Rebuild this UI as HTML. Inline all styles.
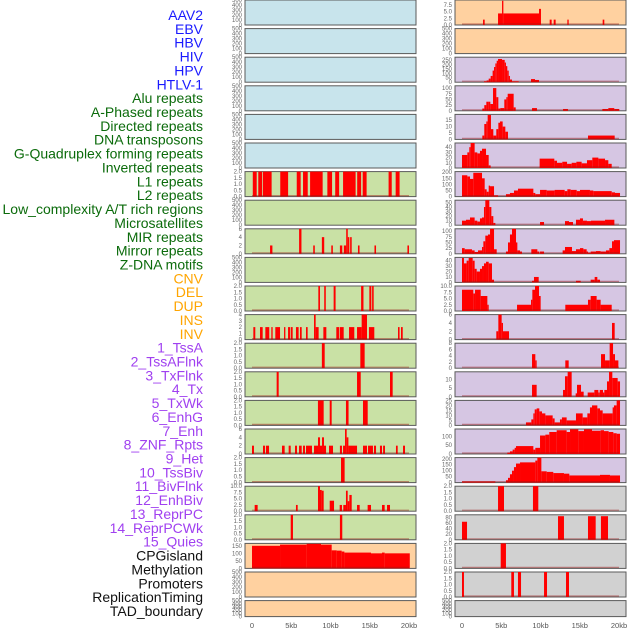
<!DOCTYPE html>
<html><head><meta charset="utf-8">
<style>
body{margin:0;background:#fff;width:630px;height:630px;overflow:hidden;font-family:"Liberation Sans",sans-serif}
svg{display:block}
</style></head>
<body>
<svg id="chart" width="630" height="630" xmlns="http://www.w3.org/2000/svg"></svg>
<script>
// ---- track labels ----
const trackLabels = ["AAV2","EBV","HBV","HIV","HPV","HTLV-1","Alu repeats","A-Phased repeats","Directed repeats","DNA transposons","G-Quadruplex forming repeats","Inverted repeats","L1 repeats","L2 repeats","Low_complexity A/T rich regions","Microsatellites","MIR repeats","Mirror repeats","Z-DNA motifs","CNV","DEL","DUP","INS","INV","1_TssA","2_TssAFlnk","3_TxFlnk","4_Tx","5_TxWk","6_EnhG","7_Enh","8_ZNF_Rpts","9_Het","10_TssBiv","11_BivFlnk","12_EnhBiv","13_ReprPC","14_ReprPCWk","15_Quies","CPGisland","Methylation","Promoters","ReplicationTiming","TAD_boundary"];
const labelGroups = [6,13,5,15,5];
const groupColors = ["#1a1aff","#0b6b0b","#ffa500","#a040f0","#111111"];
const xTickLabels = ["0","5kb","10kb","15kb","20kb"];
const xTickValues = [0,5,10,15,20];
const blankTicks = ["0","100","200","300","400","500"];
// ---- series: [startKb, endKb, value] ----
const L6 = [[0.1,0.6,2],[0.8,1.3,2],[1.4,2.5,2],[3.6,4.6,2],[5.7,6.2,2],[6.5,7.1,2],[7.4,9.0,2],[9.6,10.2,2],[10.6,11.1,2],[11.6,13.2,2],[13.4,13.9,2],[14.1,14.6,2],[17.4,17.8,2],[18.3,18.8,2]];
const L8 = [[2.3,2.6,2],[6.0,6.3,6],[7.8,8.0,2],[8.9,9.2,4],[10.1,10.3,2],[11.2,11.5,2],[11.7,12.0,2],[12.0,12.2,6],[12.2,12.4,4],[12.5,12.7,4],[13.5,13.7,2],[15.6,15.8,2],[19.8,20.0,2]];
const L10 = [[8.45,8.66,2],[9.2,9.4,2],[10.4,10.65,2],[13.9,14.2,2],[14.95,15.2,2],[15.3,15.5,2]];
const L11 = [[0.17,0.42,2],[1.02,1.36,2],[1.7,2.2,2],[2.46,2.63,2],[2.97,3.57,2],[4.08,4.25,2],[4.59,4.84,2],[4.93,5.18,2],[5.6,5.94,2],[6.11,6.33,2],[6.88,7.09,2],[7.9,8.11,4],[8.11,8.49,2],[9.09,9.47,2],[10.74,11.08,2],[11.17,11.68,2],[12.36,13.03,2],[13.38,13.97,2],[13.97,14.65,4],[14.9,15.58,2],[18.6,18.8,2],[18.98,19.2,2]];
const L12 = [[8.9,9.26,2],[13.8,14.35,2]];
const L13 = [[3.14,3.4,2],[13.38,13.85,2],[17.58,17.92,2]];
const L14 = [[8.4,9.13,2],[9.9,10.15,2],[11.97,12.3,2],[14.14,14.74,2]];
const L15 = [[0,0.25,2],[1.4,1.66,2],[1.78,2.17,2],[3.82,4.16,2],[4.67,4.93,2],[5.48,5.73,2],[5.99,6.33,2],[6.5,6.75,2],[6.88,7.64,2],[7.9,8.41,2],[8.41,8.66,4],[8.66,8.92,2],[8.92,9.17,4],[9.17,9.43,2],[9.81,10.32,2],[11.2,11.46,2],[11.6,11.85,2],[11.85,12.06,6],[12.06,12.28,4],[12.28,13.38,2],[14.14,14.65,2],[14.78,15.41,2],[15.54,15.8,2],[16.3,16.56,2],[16.7,16.94,2],[18.34,18.56,2],[19.24,19.49,2]];
const L16 = [[11.34,11.8,2]];
const L17 = [[0.34,0.72,2.5],[5.6,5.82,2.5],[8.41,8.66,10],[8.66,8.88,8.5],[8.88,9.13,8.2],[9.9,10.45,4.2],[11.17,11.46,2.5],[11.63,11.97,2.5],[11.97,12.19,8.2],[12.19,12.4,4],[12.4,12.7,6.5],[13.38,13.72,2.5],[14.73,15.16,2.5],[16.56,16.9,2.5],[17.2,17.58,2.5]];
const L18 = [[4.93,5.22,2],[11.2,11.5,2]];
const L19 = [[0,3.57,150],[3.57,6.96,158],[6.96,8.79,163],[8.79,10.15,158],[10.15,10.79,120],[10.79,11.42,118],[11.42,11.77,112],[11.77,15.16,105],[15.16,16.56,100],[16.56,16.9,105],[16.9,20.1,100]];
const R0 = [[2.68,2.89,2],[4.59,5.1,4.3],[5.1,5.27,9],[5.27,9.81,4.3],[9.81,10.06,6],[11.17,11.42,2],[11.68,11.93,2],[13.42,13.59,2],[17.92,18.13,2]];
const R2 = [[2.8,3.14,10],[3.14,3.4,20],[3.4,3.65,40],[3.65,3.9,70],[3.9,4.08,130],[4.08,4.25,170],[4.25,4.42,210],[4.42,4.59,240],[4.59,5.1,260],[5.1,5.44,250],[5.44,5.6,220],[5.6,5.77,180],[5.77,5.95,130],[5.95,6.11,70],[6.11,6.37,30],[6.37,7.22,10],[8.79,9.3,35],[9.3,9.81,25]];
const R3 = [[2.59,2.84,10],[2.84,3.1,25],[3.1,3.35,40],[3.35,3.61,40],[3.61,3.95,30],[3.95,4.37,100],[4.37,4.63,60],[4.63,4.88,10],[4.88,5.39,12],[5.39,5.65,50],[5.65,5.82,60],[5.82,6.58,75],[6.58,6.84,15],[8.92,9.55,12],[12.87,13.5,8],[17.88,18.64,8],[18.64,19.4,12],[19.4,20.04,8]];
const R4 = [[2.59,2.84,3],[2.84,3.1,12],[3.1,3.27,14],[3.27,3.69,19],[3.69,3.99,8],[3.99,4.37,3],[4.37,4.63,8],[4.63,4.84,13],[4.84,5.18,14],[5.18,5.52,10],[5.52,5.86,6],[16.05,19.45,3]];
const R5 = [[0,0.68,25],[0.68,0.93,30],[0.93,1.1,40],[1.1,1.61,48],[1.61,1.95,30],[1.95,2.29,28],[2.29,2.55,33],[2.55,3.06,37],[3.06,3.4,25],[3.4,3.65,5],[9.89,11.76,18],[11.76,12.1,14],[12.1,12.78,10],[12.78,13.38,12],[13.38,13.97,8],[13.97,14.57,10],[14.57,15.24,12],[15.24,15.92,9],[15.92,16.6,15],[16.6,17.37,20],[17.37,18.22,18],[18.22,18.64,15],[18.64,19.07,8]];
const R6 = [[0,0.68,175],[0.68,1.02,165],[1.02,1.44,145],[1.44,2.55,195],[2.55,2.89,150],[2.89,3.14,60],[3.14,3.4,40],[3.4,3.57,90],[3.57,4.08,85],[4.08,4.59,10],[5.6,6.11,20],[6.11,6.62,30],[6.62,7.13,50],[7.13,9.09,65],[9.09,9.34,30],[9.34,9.94,20],[9.94,10.79,55],[10.79,11.8,50],[11.8,13.08,55],[13.08,13.42,45],[13.42,13.84,60],[13.84,14.61,55],[14.61,15.03,45],[15.03,16.3,55],[16.3,16.73,50],[16.73,19.07,45],[19.07,19.49,35],[19.49,20.13,30]];
const R7 = [[0,0.51,10],[0.51,1.02,12],[1.02,1.61,17],[1.61,1.95,10],[1.95,2.29,8],[2.29,2.55,15],[2.55,2.8,17],[2.8,2.97,40],[2.97,3.48,55],[3.48,3.74,40],[3.74,3.99,20],[3.99,4.25,5],[9.94,10.45,7],[13.12,13.63,9],[13.63,14.14,7],[14.52,15.03,12],[15.03,15.41,15],[15.41,15.92,10],[15.92,16.43,9],[16.43,18.22,10],[18.22,19.41,12]];
const R8 = [[0,0.34,25],[0.34,1.27,20],[1.27,1.61,15],[1.61,2.04,8],[2.04,2.55,15],[2.55,2.72,30],[2.72,2.97,55],[2.97,3.31,80],[3.31,3.57,85],[3.57,4.08,110],[4.08,4.42,20],[5.6,5.86,10],[5.86,6.11,50],[6.11,6.37,85],[6.37,6.88,110],[6.88,7.05,50],[7.05,7.39,15],[7.39,7.64,10],[8.83,9.6,20],[9.6,9.85,10],[9.94,10.45,10],[12.82,13.12,15],[13.12,14.01,30],[14.01,14.52,12],[14.52,15.03,20],[15.03,15.46,25],[15.46,15.88,20],[15.88,16.05,10],[16.05,16.39,5],[16.39,17.07,10],[17.07,17.66,12],[17.66,18.34,10],[18.34,18.77,15],[18.77,19.11,25],[19.11,19.36,55],[19.36,20.13,60]];
const R9 = [[0,0.25,45],[0.25,0.59,35],[0.59,0.85,40],[0.85,1.36,45],[1.36,1.61,40],[1.61,1.87,25],[1.87,2.29,20],[2.29,2.55,25],[2.55,2.8,30],[2.8,3.06,35],[3.06,3.4,38],[3.4,3.82,35],[3.82,4.08,5],[8.92,9.17,3],[9.17,9.77,10],[14.52,15.12,3],[16.39,16.9,5],[16.9,17.24,10],[17.24,17.58,5]];
const R10 = [[0,1.44,8.5],[1.44,1.66,7],[1.66,2.38,8.5],[2.38,3.23,6],[3.23,3.4,2.5],[7.01,8.79,2.5],[8.79,8.96,4.5],[8.96,9.3,8.5],[9.3,9.81,10],[9.81,10.02,6],[13.16,16.05,2.5],[16.05,16.39,4.5],[16.39,17.15,6],[17.15,17.66,4.5],[17.66,19.07,2.5]];
const R11 = [[4.37,4.63,2],[4.63,5.05,6],[5.05,5.22,4],[5.22,5.99,2],[19.11,19.45,4]];
const R12 = [[8.92,9.34,4.5],[9.34,9.51,2.5],[13.16,13.59,2.5],[17.71,18.22,4.5],[18.22,18.81,2.5],[18.81,19.24,8],[19.24,19.49,4.5],[19.49,19.92,2.5]];
const R13 = [[8.92,9.51,7],[12.87,13.12,4],[13.12,13.46,12],[13.46,13.97,15],[14.48,14.65,2],[14.65,15.16,7],[15.16,15.5,3],[16.01,16.86,2.5],[16.86,17.37,4],[17.37,17.54,2.5],[17.54,17.96,4],[17.96,18.13,2.5],[18.13,18.47,4],[18.47,18.73,9],[18.73,19.15,15],[19.15,19.83,11],[19.83,20.13,9]];
const R14 = [[8.15,8.83,3],[8.83,9.09,6],[9.09,9.26,12],[9.26,9.51,16],[9.51,9.85,17],[9.85,10.19,14],[10.19,10.62,12],[10.62,11.55,10],[11.55,11.8,7],[11.8,12.48,3],[12.48,12.73,6],[12.73,13.33,8],[13.33,14.52,5],[14.52,15.37,12],[15.37,15.97,8],[15.97,16.3,12],[16.3,16.56,18],[16.56,17.24,20],[17.24,17.58,17],[17.58,17.92,15],[17.92,19.19,12],[19.19,19.36,18],[19.36,19.7,20],[19.7,20.13,25]];
const R15 = [[5.77,6.11,8],[6.11,6.45,15],[6.45,6.71,25],[6.71,6.88,35],[6.88,9.09,45],[9.09,9.34,25],[9.34,9.94,35],[9.94,10.62,105],[10.62,11.12,110],[11.12,12.06,125],[12.06,13.33,135],[13.33,13.76,125],[13.76,14.82,140],[14.82,15.54,130],[15.54,16.56,140],[16.56,17.66,132],[17.66,18.09,135],[18.09,18.68,130],[18.68,19.28,125],[19.28,19.7,118],[19.7,20.13,115]];
const R16 = [[0,4.25,10],[5.6,5.86,20],[5.86,6.11,40],[6.11,6.37,70],[6.37,6.62,100],[6.62,6.88,130],[6.88,7.39,160],[7.39,9.34,170],[9.34,9.6,185],[9.6,10.11,210],[10.11,10.79,95],[10.79,11.63,90],[11.63,12.99,80],[12.99,13.67,75],[13.67,17.58,60],[17.58,18.85,65],[18.85,20.13,60]];
const R17 = [[4.59,5.35,2],[9.04,9.72,2]];
const R18 = [[0,0.64,65],[12.23,12.99,85],[16.05,17.03,85],[17.7,18.6,85]];
const R19 = [[4.93,5.6,2]];
const R20 = [[0,0.25,2],[6.28,6.62,2],[7.13,7.52,2],[10.45,10.83,2],[13.25,13.63,2]];
const t2=["0.0","0.5","1.0","1.5","2.0"], t6=["0","2","4","6"];
const leftPanels = [
 [null,500],[null,500],[null,500],[null,500],[null,500],[null,500],
 [L6,2,[0,0.5,1,1.5,2],t2],[null,500],[L8,6,[0,2,4,6],t6],[null,500],
 [L10,2,[0,0.5,1,1.5,2],t2],[L11,4,[0,1,2,3,4],["0","1","2","3","4"]],
 [L12,2,[0,0.5,1,1.5,2],t2],[L13,2,[0,0.5,1,1.5,2],t2],[L14,2,[0,0.5,1,1.5,2],t2],
 [L15,6,[0,2,4,6],t6],[L16,2,[0,0.5,1,1.5,2],t2],
 [L17,10,[0,2.5,5,7.5,10],["0.0","2.5","5.0","7.5","10.0"]],[L18,2,[0,0.5,1,1.5,2],t2],
 [L19,166,[0,50,100,150],["0","50","100","150"]],[null,500],[null,500]];
const rightPanels = [
 [R0,9.3,[0,2.5,5,7.5],["0.0","2.5","5.0","7.5"]],[null,500],
 [R2,280,[0,50,100,150,200,250],["0","50","100","150","200","250"]],
 [R3,110,[0,25,50,75,100],["0","25","50","75","100"]],
 [R4,19.5,[0,5,10,15],["0","5","10","15"]],
 [R5,48,[0,10,20,30,40],["0","10","20","30","40"]],
 [R6,205,[0,50,100,150,200],["0","50","100","150","200"]],
 [R7,55,[0,10,20,30,40,50],["0","10","20","30","40","50"]],
 [R8,110,[0,25,50,75,100],["0","25","50","75","100"]],
 [R9,46,[0,10,20,30,40],["0","10","20","30","40"]],
 [R10,10,[0,2.5,5,7.5,10],["0.0","2.5","5.0","7.5","10.0"]],
 [R11,6,[0,2,4,6],t6],
 [R12,8,[0,2,4,6,8],["0","2","4","6","8"]],
 [R13,14.6,[0,5,10],["0","5","10"]],
 [R14,25,[0,5,10,15,20,25],["0","5","10","15","20","25"]],
 [R15,142,[0,50,100],["0","50","100"]],
 [R16,210,[0,50,100,150,200],["0","50","100","150","200"]],
 [R17,2,[0,0.5,1,1.5,2],t2],
 [R18,90,[0,20,40,60,80],["0","20","40","60","80"]],
 [R19,2,[0,0.5,1,1.5,2],t2],[R20,2,[0,0.5,1,1.5,2],t2],[null,500]];
const leftBg = i => i<6?"#c8e4ec":(i<19?"#c9e1a5":"#ffd1a0");
const rightBg = i => i<2?"#ffd1a0":(i<17?"#d6c6e3":"#d1d1d1");

const NS="http://www.w3.org/2000/svg";
const svg=document.getElementById('chart');
function mk(tag,attrs,parent){const e=document.createElementNS(NS,tag);for(const k in attrs)e.setAttribute(k,attrs[k]);(parent||svg).appendChild(e);return e;}

let li=0;
labelGroups.forEach((n,g)=>{for(let k=0;k<n;k++){const t=mk('text',{x:203,y:15+li*13.86+5,'text-anchor':'end','font-size':'14',fill:groupColors[g]});t.textContent=trackLabels[li];

li++;}});

function drawColumn(panels,x0,bgf,side){
 const w=171, kbPx=7.85, xs=kb=>x0+7+kb*kbPx;
 panels.forEach((p,i)=>{
  const top=i*28.6, h=(i===21?16:25), bot=top+h;
  const g=mk('g',{});
  
  
  mk('rect',{x:x0,y:top,width:w,height:h,fill:bgf(i),stroke:'#5a5a5a','stroke-width':1},g);
  const max=p[1];
  const tv=p[0]?p[2]:[0,100,200,300,400,500], ts=p[0]?p[3]:blankTicks;
  const ys=v=>bot-v/max*h;
  tv.forEach((v,k)=>{const t=mk('text',{x:x0-3,y:ys(v)+2,'text-anchor':'end','font-size':'6',fill:'#666'},g);t.textContent=ts[k];
   
   });
  if(p[0]){
   p[0].forEach(s=>{const r=mk('rect',{x:xs(s[0]),y:ys(Math.min(s[2],max)),width:Math.max(0.8,xs(s[1])-xs(s[0])),height:Math.min(s[2],max)/max*h,fill:'#ff0000'},g);
    
    });
   mk('line',{x1:xs(0),x2:xs(20),y1:bot-1,y2:bot-1,stroke:'rgba(150,20,20,0.45)','stroke-width':1.2},g);
  }
 });
 xTickValues.forEach((v,k)=>{const t=mk('text',{x:xs(v),y:628,'text-anchor':'middle','font-size':'7.5',fill:'#555'});t.textContent=xTickLabels[k];
  
  });
}
drawColumn(leftPanels,245,leftBg,'left');
drawColumn(rightPanels,455,rightBg,'right');
</script>
</body></html>
